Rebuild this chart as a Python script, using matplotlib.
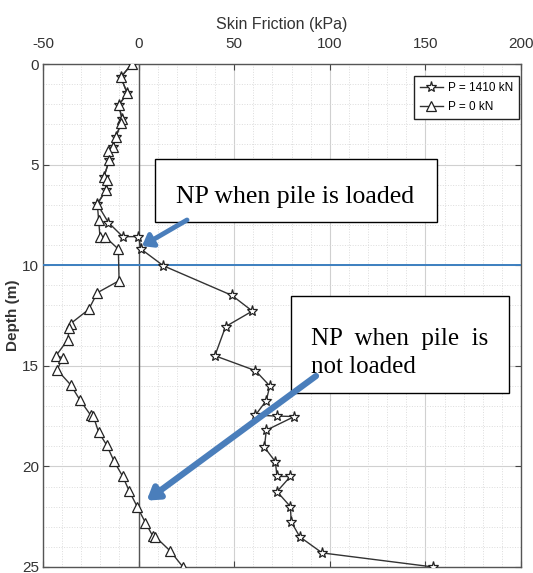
import matplotlib
matplotlib.use("Agg")
import matplotlib.pyplot as plt
from matplotlib.patches import Rectangle

# depth (m) and skin friction (kPa)
depth_0kN = [0, 0.66, 1.46, 2.04, 2.75, 2.92, 3.61, 4.14, 4.31, 4.77, 5.6, 5.77,
             6.26, 6.96, 7.75, 8.58, 8.58, 9.2, 10.77, 11.37, 12.2, 12.9, 13.1,
             13.7, 14.5, 14.6, 15.2, 15.95, 16.7, 17.45, 17.5, 18.3, 18.94, 19.75,
             20.5, 21.24, 22.03, 22.8, 23.46, 23.5, 24.2, 25]
fs_0kN = [-3.6, -9.3, -5.9, -10.4, -8.6, -9.0, -11.8, -13.5, -15.8, -15.3, -18.1, -16.4,
          -17.0, -21.6, -20.9, -20.2, -17.6, -10.6, -10.2, -21.6, -26.1, -35.5, -36.3,
          -37.0, -43.2, -39.7, -42.6, -35.5, -30.7, -25.1, -23.7, -20.9, -16.7, -12.8,
          -8.3, -4.8, -0.6, 3.6, 7.4, 8.8, 16.5, 23.2]

depth_1410kN = [0, 0.66, 1.46, 2.04, 2.75, 3.61, 4.14, 4.77, 5.6, 6.26, 6.96,
                7.88, 8.58, 8.58, 9.2, 10.03, 11.5, 12.28, 13.05, 14.5, 15.24, 16.0,
                16.73, 17.45, 17.5, 17.52, 18.2, 19.05, 19.76, 20.5, 20.5, 21.25, 22.0,
                22.75, 23.5, 24.3, 25]
fs_1410kN = [-3.6, -9.3, -5.9, -10.4, -8.6, -11.8, -13.5, -15.3, -18.1, -17.0, -21.6,
             -15.8, -8.3, -0.1, 1.3, 13.0, 48.8, 59.5, 45.5, 39.9, 61.1, 68.6,
             66.8, 61.1, 72.4, 81.5, 66.8, 65.8, 71.5, 72.4, 79.4, 72.4, 79.4,
             79.8, 84.3, 96.0, 154.2]

x_ticks = [-50, 0, 50, 100, 150, 200]
y_ticks = [0, 5, 10, 15, 20, 25]
np_loaded_depth = 10

plt.rcParams['axes.unicode_minus'] = False
sans = ['Liberation Sans Narrow', 'Liberation Sans', 'DejaVu Sans']
serif = ['Liberation Serif', 'DejaVu Serif']
blue = '#4a7ebb'

fig = plt.figure(figsize=(5.33, 5.73), dpi=100)
ax = fig.add_axes([43/533, 1 - 567/573, (521 - 43)/533, (567 - 64)/573])

ax.plot(fs_1410kN, depth_1410kN, color='#333333', lw=1, marker='*', ms=8,
        mfc='white', mec='#222222', mew=0.9, label='P = 1410 kN', zorder=4)
ax.plot(fs_0kN, depth_0kN, color='#333333', lw=1, marker='^', ms=7,
        mfc='white', mec='#222222', mew=0.9, label='P = 0 kN', zorder=4)

ax.axvline(0, color='#555555', lw=1, zorder=2)
ax.axhline(np_loaded_depth, color='#3c7fc0', lw=1.4, zorder=3)

ax.set_xlim(-50, 200)
ax.set_ylim(25, 0)
ax.set_xticks(x_ticks)
ax.set_yticks(y_ticks)
ax.set_xticks(range(-50, 201, 10), minor=True)
ax.set_yticks(range(0, 26), minor=True)
ax.grid(which='major', color='#d0d0d0', lw=0.8)
ax.grid(which='minor', color='#dcdcdc', lw=0.7, ls=':')
ax.xaxis.tick_top()
ax.xaxis.set_label_position('top')
ax.tick_params(which='major', direction='in', length=4, top=True, bottom=True,
               left=True, right=True, labelbottom=False, labeltop=True,
               color='#444444', labelsize=11)
ax.tick_params(axis='x', which='major', pad=9)
ax.tick_params(axis='y', which='major', pad=3)
ax.tick_params(which='minor', length=0)
for lab in ax.get_xticklabels() + ax.get_yticklabels():
    lab.set_family(sans)
    lab.set_color('#333333')
for s in ax.spines.values():
    s.set_color('#555555')
    s.set_linewidth(1)

ax.set_xlabel('Skin Friction (kPa)', family=sans, fontsize=11.5, color='#333333', labelpad=6)
ax.set_ylabel('Depth (m)', family=sans, fontsize=11, fontweight='bold', color='#333333',
              labelpad=1)

leg = ax.legend(loc='upper right', bbox_to_anchor=(0.996, 0.976), borderaxespad=0,
                fancybox=False, edgecolor='#222222', prop={'family': sans, 'size': 8.5},
                handlelength=2.0, handletextpad=0.4, borderpad=0.5, labelspacing=0.6,
                framealpha=1)
leg.get_frame().set_linewidth(1)


def px(x, y):
    # figure pixel (from top-left) -> axes fraction
    return ((x - 43) / 478, 1 - (y - 64) / 503)


# annotation boxes
x0, y0 = px(155, 221.5)
x1, y1 = px(437, 159)
ax.add_patch(Rectangle((x0, y0), x1 - x0, y1 - y0, transform=ax.transAxes,
                       fill=True, fc='white', ec='black', lw=1, zorder=6))
ax.text(*px(295, 197), 'NP when pile is loaded', transform=ax.transAxes,
        family=serif, fontsize=18.5, ha='center', va='center', zorder=7)

x0, y0 = px(290.7, 393.3)
x1, y1 = px(509.3, 296)
ax.add_patch(Rectangle((x0, y0), x1 - x0, y1 - y0, transform=ax.transAxes,
                       fill=True, fc='white', ec='black', lw=1, zorder=6))
ax.text(*px(311, 345), 'NP  when  pile  is', transform=ax.transAxes,
        family=serif, fontsize=18, ha='left', va='baseline', zorder=7)
ax.text(*px(311, 373), 'not loaded', transform=ax.transAxes,
        family=serif, fontsize=18, ha='left', va='baseline', zorder=7)

# arrows
ax.annotate('', xy=(1.8, 9.05), xycoords='data', xytext=px(187, 220),
            textcoords='axes fraction',
            arrowprops=dict(arrowstyle='-|>,head_length=0.6,head_width=0.45',
                            color=blue, lw=3.5, shrinkA=0, shrinkB=0), zorder=8)
ax.annotate('', xy=(4.2, 21.7), xycoords='data', xytext=px(316, 376),
            textcoords='axes fraction',
            arrowprops=dict(arrowstyle='-|>,head_length=0.7,head_width=0.45',
                            color=blue, lw=4.5, shrinkA=0, shrinkB=0), zorder=8)

fig.savefig('out.png', dpi=100)
